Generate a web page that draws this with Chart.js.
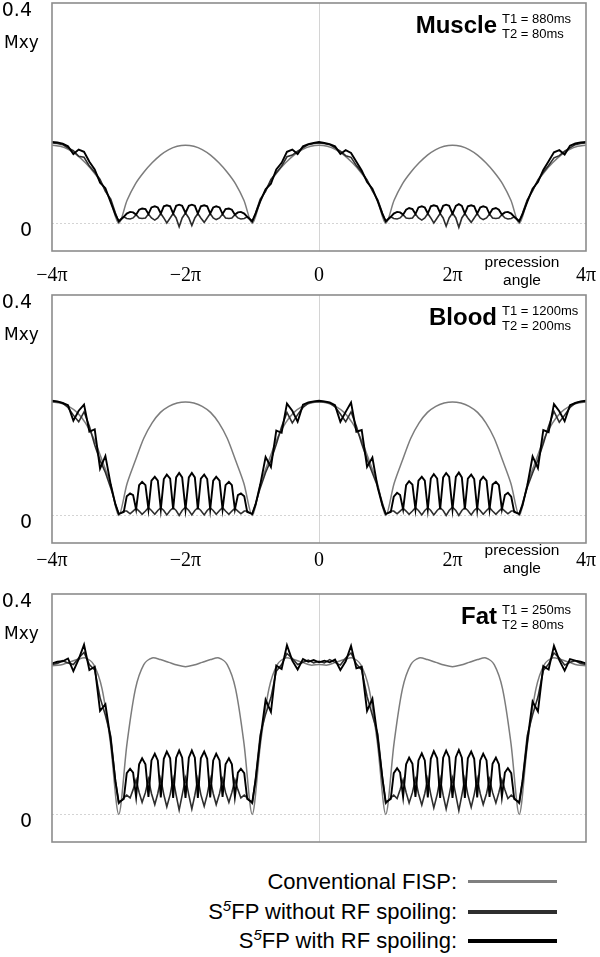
<!DOCTYPE html>
<html>
<head>
<meta charset="utf-8">
<script src="https://cdn.jsdelivr.net/npm/chart.js@4.4.0/dist/chart.umd.min.js"></script>
<style>
  body { margin: 0; background: #fff; width: 600px; height: 957px; position: relative; overflow: hidden;
         font-family: "Liberation Sans", Arial, sans-serif; }
  canvas { position: absolute; left: 0; }
  .leg { position: absolute; left: 0; width: 457px; text-align: right; font-size: 22px; line-height: 26px; color: #000; white-space: nowrap; }
  .leg sup { font-size: 15px; font-style: italic; line-height: 0; vertical-align: 8px; }
  .sw { position: absolute; left: 468px; width: 89px; }
</style>
</head>
<body>
<canvas id="muscle" width="600" height="292" style="top:0px"></canvas>
<canvas id="blood" width="600" height="299" style="top:292px"></canvas>
<canvas id="fat" width="600" height="260" style="top:591px"></canvas>

<div class="leg" style="top:869px">Conventional FISP:</div>
<div class="sw" style="top:880px;height:3px;background:#808080"></div>
<div class="leg" style="top:899px">S<sup>5</sup>FP without RF spoiling:</div>
<div class="sw" style="top:910px;height:3.5px;background:#2e2e2e"></div>
<div class="leg" style="top:928px">S<sup>5</sup>FP with RF spoiling:</div>
<div class="sw" style="top:939px;height:4px;background:#000"></div>

<script>
// x is in units of pi
const xTicks = [-4, -2, 0, 2, 4];
const xTickLabels = ['\u22124\u03c0', '\u22122\u03c0', '0', '2\u03c0', '4\u03c0'];
const yTicks = [0, 0.4];
const yTickLabels = ['0', '0.4'];

// conventional FISP sample positions
const xFisp = [-4, -3.875, -3.75, -3.625, -3.5, -3.375, -3.25, -3.125, -3, -2.875, -2.75, -2.625, -2.5, -2.375, -2.25, -2.125,
  -2, -1.875, -1.75, -1.625, -1.5, -1.375, -1.25, -1.125, -1, -0.875, -0.75, -0.625, -0.5, -0.375, -0.25, -0.125,
  0, 0.125, 0.25, 0.375, 0.5, 0.625, 0.75, 0.875, 1, 1.125, 1.25, 1.375, 1.5, 1.625, 1.75, 1.875,
  2, 2.125, 2.25, 2.375, 2.5, 2.625, 2.75, 2.875, 3, 3.125, 3.25, 3.375, 3.5, 3.625, 3.75, 3.875, 4];

const muscleFisp = [0.142, 0.140, 0.134, 0.124, 0.110, 0.093, 0.072, 0.042, 0, 0.042, 0.072, 0.093, 0.110, 0.124, 0.134, 0.140,
  0.142, 0.140, 0.134, 0.124, 0.110, 0.093, 0.072, 0.042, 0, 0.042, 0.072, 0.093, 0.110, 0.124, 0.134, 0.140,
  0.142, 0.140, 0.134, 0.124, 0.110, 0.093, 0.072, 0.042, 0, 0.042, 0.072, 0.093, 0.110, 0.124, 0.134, 0.140,
  0.142, 0.140, 0.134, 0.124, 0.110, 0.093, 0.072, 0.042, 0, 0.042, 0.072, 0.093, 0.110, 0.124, 0.134, 0.140, 0.142];
const bloodFisp = [0.206, 0.204, 0.198, 0.187, 0.168, 0.140, 0.100, 0.058, 0, 0.058, 0.100, 0.140, 0.168, 0.187, 0.198, 0.204,
  0.206, 0.204, 0.198, 0.187, 0.168, 0.140, 0.100, 0.058, 0, 0.058, 0.100, 0.140, 0.168, 0.187, 0.198, 0.204,
  0.206, 0.204, 0.198, 0.187, 0.168, 0.140, 0.100, 0.058, 0, 0.058, 0.100, 0.140, 0.168, 0.187, 0.198, 0.204,
  0.206, 0.204, 0.198, 0.187, 0.168, 0.140, 0.100, 0.058, 0, 0.058, 0.100, 0.140, 0.168, 0.187, 0.198, 0.204, 0.206];
const fatFisp = [0.270, 0.271, 0.276, 0.281, 0.284, 0.272, 0.228, 0.130, 0, 0.130, 0.228, 0.272, 0.284, 0.281, 0.276, 0.271,
  0.268, 0.271, 0.276, 0.281, 0.284, 0.272, 0.228, 0.130, 0, 0.130, 0.228, 0.272, 0.284, 0.281, 0.276, 0.271,
  0.272, 0.271, 0.276, 0.281, 0.284, 0.272, 0.228, 0.130, 0, 0.130, 0.228, 0.272, 0.284, 0.281, 0.276, 0.271,
  0.268, 0.271, 0.276, 0.281, 0.284, 0.272, 0.228, 0.130, 0, 0.130, 0.228, 0.272, 0.284, 0.281, 0.276, 0.271, 0.270];

// S5FP sample positions (shoulder, stop band, middle, stop band, shoulder)
const xS5 = [-4, -3.92, -3.84, -3.76, -3.68, -3.6, -3.52, -3.44, -3.36, -3.28, -3.2, -3.12, -3.05,
  -3, -2.925, -2.88, -2.83, -2.785, -2.74, -2.695, -2.65, -2.6, -2.555, -2.51, -2.46, -2.415, -2.37, -2.325, -2.28, -2.23, -2.185,
  -2.14, -2.095, -2.05, -2, -1.95, -1.905, -1.86, -1.815, -1.77, -1.72, -1.675, -1.63, -1.585, -1.54, -1.49, -1.445,
  -1.4, -1.35, -1.305, -1.26, -1.215, -1.17, -1.12, -1.075, -1,
  -0.95, -0.88, -0.8, -0.72, -0.64, -0.56, -0.48, -0.4, -0.32, -0.24, -0.16, -0.08, 0,
  0.08, 0.16, 0.24, 0.32, 0.4, 0.48, 0.56, 0.64, 0.72, 0.8, 0.88, 0.95,
  1, 1.075, 1.12, 1.17, 1.215, 1.26, 1.305, 1.35, 1.4, 1.445, 1.49, 1.54, 1.585, 1.63, 1.675, 1.72, 1.77, 1.815,
  1.86, 1.905, 1.95, 2, 2.05, 2.095, 2.14, 2.185, 2.23, 2.28, 2.325, 2.37, 2.415, 2.46, 2.51, 2.555,
  2.6, 2.65, 2.695, 2.74, 2.785, 2.83, 2.88, 2.925, 3,
  3.05, 3.12, 3.2, 3.28, 3.36, 3.44, 3.52, 3.6, 3.68, 3.76, 3.84, 3.92, 4];

const muscleRf = [0.148, 0.147, 0.145, 0.140, 0.126, 0.134, 0.130, 0.112, 0.098, 0.074, 0.064, 0.038, 0.016,
  0.004, 0.012, 0.018, 0.021, 0.020, 0.016, 0.025, 0.027, 0.026, 0.017, 0.029, 0.031, 0.029, 0.018, 0.031, 0.033, 0.031, 0.018,
  0.032, 0.034, 0.032, 0.019, 0.032, 0.034, 0.032, 0.018, 0.031, 0.033, 0.031, 0.018, 0.029, 0.031, 0.029, 0.017,
  0.026, 0.027, 0.025, 0.016, 0.020, 0.021, 0.018, 0.012, 0.004,
  0.018, 0.040, 0.062, 0.072, 0.098, 0.110, 0.130, 0.134, 0.126, 0.140, 0.144, 0.146, 0.148,
  0.146, 0.144, 0.140, 0.126, 0.133, 0.128, 0.112, 0.096, 0.075, 0.063, 0.040, 0.017,
  0.004, 0.012, 0.018, 0.021, 0.020, 0.016, 0.025, 0.028, 0.026, 0.017, 0.029, 0.031, 0.029, 0.018, 0.031, 0.033, 0.031, 0.019,
  0.032, 0.034, 0.032, 0.018, 0.032, 0.035, 0.032, 0.018, 0.031, 0.033, 0.031, 0.018, 0.029, 0.031, 0.029, 0.017,
  0.026, 0.028, 0.025, 0.016, 0.020, 0.021, 0.018, 0.012, 0.004,
  0.017, 0.039, 0.063, 0.075, 0.097, 0.113, 0.129, 0.133, 0.125, 0.141, 0.145, 0.147, 0.148];
const muscleNoRf = [0.146, 0.145, 0.143, 0.137, 0.132, 0.122, 0.120, 0.104, 0.093, 0.080, 0.058, 0.044, 0.019,
  0.003, 0.012, 0.009, 0.008, 0.010, 0.016, 0.010, 0.009, 0.010, 0.017, 0.010, 0.006, 0.010, 0.018, 0.010, 0.001, 0.010, 0.018,
  0.010, -0.006, 0.010, 0.019, 0.010, -0.004, 0.010, 0.018, 0.010, 0.002, 0.010, 0.018, 0.010, 0.007, 0.010, 0.017,
  0.010, 0.009, 0.010, 0.016, 0.010, 0.008, 0.009, 0.012, 0.003,
  0.019, 0.044, 0.058, 0.080, 0.092, 0.104, 0.121, 0.124, 0.131, 0.137, 0.143, 0.145, 0.146,
  0.145, 0.143, 0.137, 0.131, 0.123, 0.120, 0.105, 0.093, 0.079, 0.059, 0.043, 0.019,
  0.003, 0.012, 0.009, 0.008, 0.010, 0.016, 0.010, 0.009, 0.010, 0.017, 0.010, 0.006, 0.010, 0.018, 0.010, 0.001, 0.010, 0.018,
  0.010, -0.005, 0.010, 0.019, 0.010, -0.007, 0.010, 0.018, 0.010, 0.002, 0.010, 0.018, 0.010, 0.007, 0.010, 0.017,
  0.010, 0.009, 0.010, 0.016, 0.010, 0.008, 0.009, 0.012, 0.003,
  0.019, 0.043, 0.059, 0.079, 0.093, 0.105, 0.119, 0.123, 0.131, 0.137, 0.143, 0.145, 0.146];

const bloodRf = [0.208, 0.207, 0.204, 0.200, 0.172, 0.190, 0.201, 0.152, 0.156, 0.085, 0.108, 0.056, 0.020,
  0.003, 0.006, 0.035, 0.040, 0.037, 0.011, 0.055, 0.061, 0.055, 0.011, 0.063, 0.070, 0.063, 0.011, 0.066, 0.074, 0.067, 0.011,
  0.069, 0.077, 0.069, 0.011, 0.069, 0.077, 0.069, 0.011, 0.067, 0.074, 0.066, 0.011, 0.063, 0.070, 0.063, 0.011,
  0.055, 0.061, 0.055, 0.011, 0.037, 0.040, 0.035, 0.006, 0.003,
  0.020, 0.056, 0.106, 0.088, 0.154, 0.150, 0.203, 0.190, 0.170, 0.201, 0.205, 0.207, 0.208,
  0.207, 0.205, 0.200, 0.170, 0.188, 0.205, 0.152, 0.155, 0.088, 0.105, 0.050, 0.018,
  0.003, 0.006, 0.034, 0.041, 0.037, 0.011, 0.055, 0.062, 0.056, 0.011, 0.063, 0.070, 0.063, 0.011, 0.067, 0.075, 0.067, 0.011,
  0.069, 0.077, 0.070, 0.011, 0.070, 0.078, 0.069, 0.011, 0.067, 0.074, 0.066, 0.011, 0.063, 0.070, 0.063, 0.011,
  0.056, 0.061, 0.055, 0.011, 0.037, 0.041, 0.034, 0.006, 0.003,
  0.019, 0.054, 0.107, 0.086, 0.155, 0.151, 0.202, 0.189, 0.171, 0.200, 0.204, 0.207, 0.208];
const bloodNoRf = [0.207, 0.206, 0.204, 0.196, 0.182, 0.170, 0.188, 0.162, 0.128, 0.100, 0.078, 0.050, 0.021,
  0.002, 0.008, 0.008, 0.003, 0.008, 0.013, 0.008, 0.002, 0.008, 0.014, 0.009, 0.002, 0.009, 0.014, 0.009, 0.001, 0.009, 0.014,
  0.009, 0.000, 0.009, 0.015, 0.009, 0.001, 0.009, 0.014, 0.009, 0.001, 0.009, 0.014, 0.009, 0.002, 0.009, 0.014,
  0.008, 0.002, 0.008, 0.013, 0.008, 0.003, 0.008, 0.008, 0.002,
  0.021, 0.050, 0.078, 0.100, 0.129, 0.161, 0.187, 0.168, 0.183, 0.196, 0.204, 0.206, 0.207,
  0.206, 0.204, 0.197, 0.184, 0.170, 0.188, 0.162, 0.130, 0.102, 0.077, 0.052, 0.022,
  0.002, 0.008, 0.008, 0.003, 0.008, 0.013, 0.008, 0.002, 0.008, 0.014, 0.009, 0.001, 0.009, 0.014, 0.009, 0.001, 0.009, 0.014,
  0.009, 0.000, 0.009, 0.015, 0.009, 0.000, 0.009, 0.014, 0.009, 0.001, 0.009, 0.014, 0.009, 0.002, 0.009, 0.014,
  0.008, 0.002, 0.008, 0.013, 0.008, 0.003, 0.008, 0.008, 0.002,
  0.022, 0.051, 0.077, 0.101, 0.130, 0.162, 0.189, 0.169, 0.182, 0.196, 0.204, 0.206, 0.207];

const fatRf = [0.274, 0.277, 0.278, 0.283, 0.260, 0.282, 0.308, 0.262, 0.268, 0.188, 0.200, 0.135, 0.060,
  0.022, 0.028, 0.075, 0.083, 0.076, 0.032, 0.091, 0.102, 0.091, 0.032, 0.098, 0.110, 0.098, 0.031, 0.101, 0.114, 0.102, 0.030,
  0.103, 0.116, 0.103, 0.030, 0.103, 0.116, 0.103, 0.030, 0.102, 0.114, 0.101, 0.031, 0.098, 0.110, 0.098, 0.032,
  0.091, 0.102, 0.091, 0.032, 0.076, 0.083, 0.075, 0.028, 0.022,
  0.062, 0.136, 0.208, 0.186, 0.270, 0.264, 0.307, 0.279, 0.263, 0.282, 0.277, 0.280, 0.276,
  0.279, 0.276, 0.281, 0.262, 0.278, 0.306, 0.265, 0.268, 0.188, 0.210, 0.138, 0.065,
  0.022, 0.028, 0.075, 0.084, 0.076, 0.032, 0.091, 0.103, 0.092, 0.032, 0.098, 0.111, 0.098, 0.031, 0.101, 0.115, 0.102, 0.030,
  0.103, 0.116, 0.104, 0.030, 0.104, 0.117, 0.103, 0.030, 0.102, 0.114, 0.101, 0.031, 0.098, 0.110, 0.098, 0.032,
  0.092, 0.103, 0.091, 0.032, 0.076, 0.084, 0.075, 0.028, 0.022,
  0.060, 0.132, 0.205, 0.187, 0.269, 0.263, 0.306, 0.280, 0.261, 0.282, 0.279, 0.277, 0.274];
const fatNoRf = [0.272, 0.274, 0.279, 0.275, 0.272, 0.284, 0.294, 0.272, 0.262, 0.212, 0.180, 0.142, 0.062,
  0.020, 0.030, 0.035, 0.030, 0.045, 0.063, 0.040, 0.022, 0.040, 0.064, 0.038, 0.018, 0.038, 0.065, 0.036, 0.014, 0.036, 0.065,
  0.035, 0.008, 0.035, 0.066, 0.035, 0.010, 0.035, 0.065, 0.036, 0.015, 0.036, 0.065, 0.038, 0.018, 0.038, 0.064,
  0.040, 0.022, 0.040, 0.063, 0.045, 0.030, 0.035, 0.030, 0.020,
  0.066, 0.145, 0.182, 0.212, 0.260, 0.272, 0.292, 0.283, 0.272, 0.276, 0.280, 0.275, 0.278,
  0.275, 0.281, 0.276, 0.271, 0.284, 0.293, 0.273, 0.262, 0.214, 0.180, 0.146, 0.068,
  0.020, 0.030, 0.035, 0.029, 0.045, 0.063, 0.040, 0.021, 0.040, 0.064, 0.038, 0.017, 0.038, 0.065, 0.036, 0.012, 0.036, 0.065,
  0.035, 0.010, 0.035, 0.066, 0.035, 0.007, 0.035, 0.065, 0.036, 0.013, 0.036, 0.065, 0.038, 0.018, 0.038, 0.064,
  0.040, 0.021, 0.040, 0.063, 0.045, 0.029, 0.035, 0.030, 0.020,
  0.064, 0.143, 0.181, 0.213, 0.261, 0.273, 0.293, 0.284, 0.271, 0.276, 0.279, 0.274, 0.272];

function pts(xs, ys) {
  return xs.map((x, i) => ({ x: x, y: ys[i] }));
}

// box, zero lines and the texts inside each panel
const panelDecor = {
  id: 'panelDecor',
  beforeDatasetsDraw(chart) {
    const { ctx, chartArea: a, scales } = chart;
    const x0 = Math.round(scales.x.getPixelForValue(0)) + 0.5;
    const y0 = Math.round(scales.y.getPixelForValue(0)) + 0.5;
    ctx.save();
    ctx.strokeStyle = '#d4d4d4';
    ctx.lineWidth = 1;
    ctx.beginPath(); ctx.moveTo(x0, a.top); ctx.lineTo(x0, a.bottom); ctx.stroke();
    ctx.setLineDash([2, 2]);
    ctx.beginPath(); ctx.moveTo(a.left, y0); ctx.lineTo(a.right, y0); ctx.stroke();
    ctx.restore();
  },
  afterDatasetsDraw(chart, args, opts) {
    const { ctx, chartArea: a } = chart;
    ctx.save();
    ctx.strokeStyle = '#8c8c8c';
    ctx.lineWidth = 1.6;
    ctx.strokeRect(a.left, a.top, a.right - a.left, a.bottom - a.top);

    ctx.fillStyle = '#000';
    ctx.textBaseline = 'alphabetic';
    ctx.textAlign = 'right';
    ctx.font = 'bold 24px "Liberation Sans", Arial, sans-serif';
    ctx.fillText(opts.title, 497, a.top + 30);
    ctx.textAlign = 'left';
    ctx.font = '13px "Liberation Sans", Arial, sans-serif';
    ctx.fillText(opts.t1, 502, a.top + 20);
    ctx.fillText(opts.t2, 502, a.top + 35);

    ctx.font = '17px "DejaVu Sans", sans-serif';
    ctx.fillText('Mxy', 4, a.top + 45);

    if (opts.showX) {
      ctx.textAlign = 'center';
      ctx.font = '15.5px "Liberation Sans", Arial, sans-serif';
      ctx.fillText('precession', 522, a.bottom + opts.angleDy);
      ctx.fillText('angle', 522, a.bottom + opts.angleDy + 18);
    }
    ctx.restore();
  }
};

function makePanel(id, title, t1, t2, fisp, noRf, rf, showX, tickPad, angleDy) {
  const canvas = document.getElementById(id);
  const plotH = 248;
  const xAxisH = canvas.height - 3 - plotH;
  return new Chart(canvas, {
    type: 'line',
    data: {
      datasets: [
        { label: 'S5FP with RF spoiling', data: pts(xS5, rf), borderColor: '#000', borderWidth: 1.9 },
        { label: 'S5FP without RF spoiling', data: pts(xS5, noRf), borderColor: '#2e2e2e', borderWidth: 1.6 },
        { label: 'Conventional FISP', data: pts(xFisp, fisp), borderColor: '#7c7c7c', borderWidth: 1.5, tension: 0.3 }
      ]
    },
    options: {
      responsive: false,
      animation: false,
      devicePixelRatio: 1,
      layout: { autoPadding: false, padding: { left: 0, right: 14, top: 3, bottom: 0 } },
      elements: { point: { radius: 0 }, line: { tension: 0, fill: false } },
      plugins: {
        legend: { display: false },
        tooltip: { enabled: false },
        panelDecor: { title: title, t1: t1, t2: t2, showX: showX, angleDy: angleDy }
      },
      scales: {
        x: {
          type: 'linear', min: -4, max: 4,
          afterBuildTicks: s => { s.ticks = xTicks.map(v => ({ value: v })); },
          afterFit: s => { s.height = xAxisH; s.paddingLeft = 0; s.paddingRight = 0; },
          grid: { display: false, drawTicks: false },
          border: { display: false },
          ticks: {
            display: showX, autoSkip: false, maxRotation: 0, padding: tickPad, color: '#000',
            font: { family: '"Liberation Serif", "Times New Roman", serif', size: 20 },
            callback: v => xTickLabels[xTicks.indexOf(v)]
          }
        },
        y: {
          type: 'linear', min: -0.05, max: 0.4,
          afterBuildTicks: s => { s.ticks = yTicks.map(v => ({ value: v })); },
          afterFit: s => { s.width = 52; s.paddingTop = 0; s.paddingBottom = 0; },
          grid: { display: false, drawTicks: false },
          border: { display: false },
          ticks: {
            padding: 20, labelOffset: 8, color: '#000',
            font: { family: '"DejaVu Sans", sans-serif', size: 19 },
            callback: v => yTickLabels[yTicks.indexOf(v)]
          }
        }
      }
    },
    plugins: [panelDecor]
  });
}

makePanel('muscle', 'Muscle', 'T1 = 880ms', 'T2 = 80ms', muscleFisp, muscleNoRf, muscleRf, true, 13, 16);
makePanel('blood', 'Blood', 'T1 = 1200ms', 'T2 = 200ms', bloodFisp, bloodNoRf, bloodRf, true, 6, 12);
makePanel('fat', 'Fat', 'T1 = 250ms', 'T2 = 80ms', fatFisp, fatNoRf, fatRf, false, 13, 16);
</script>
</body>
</html>
